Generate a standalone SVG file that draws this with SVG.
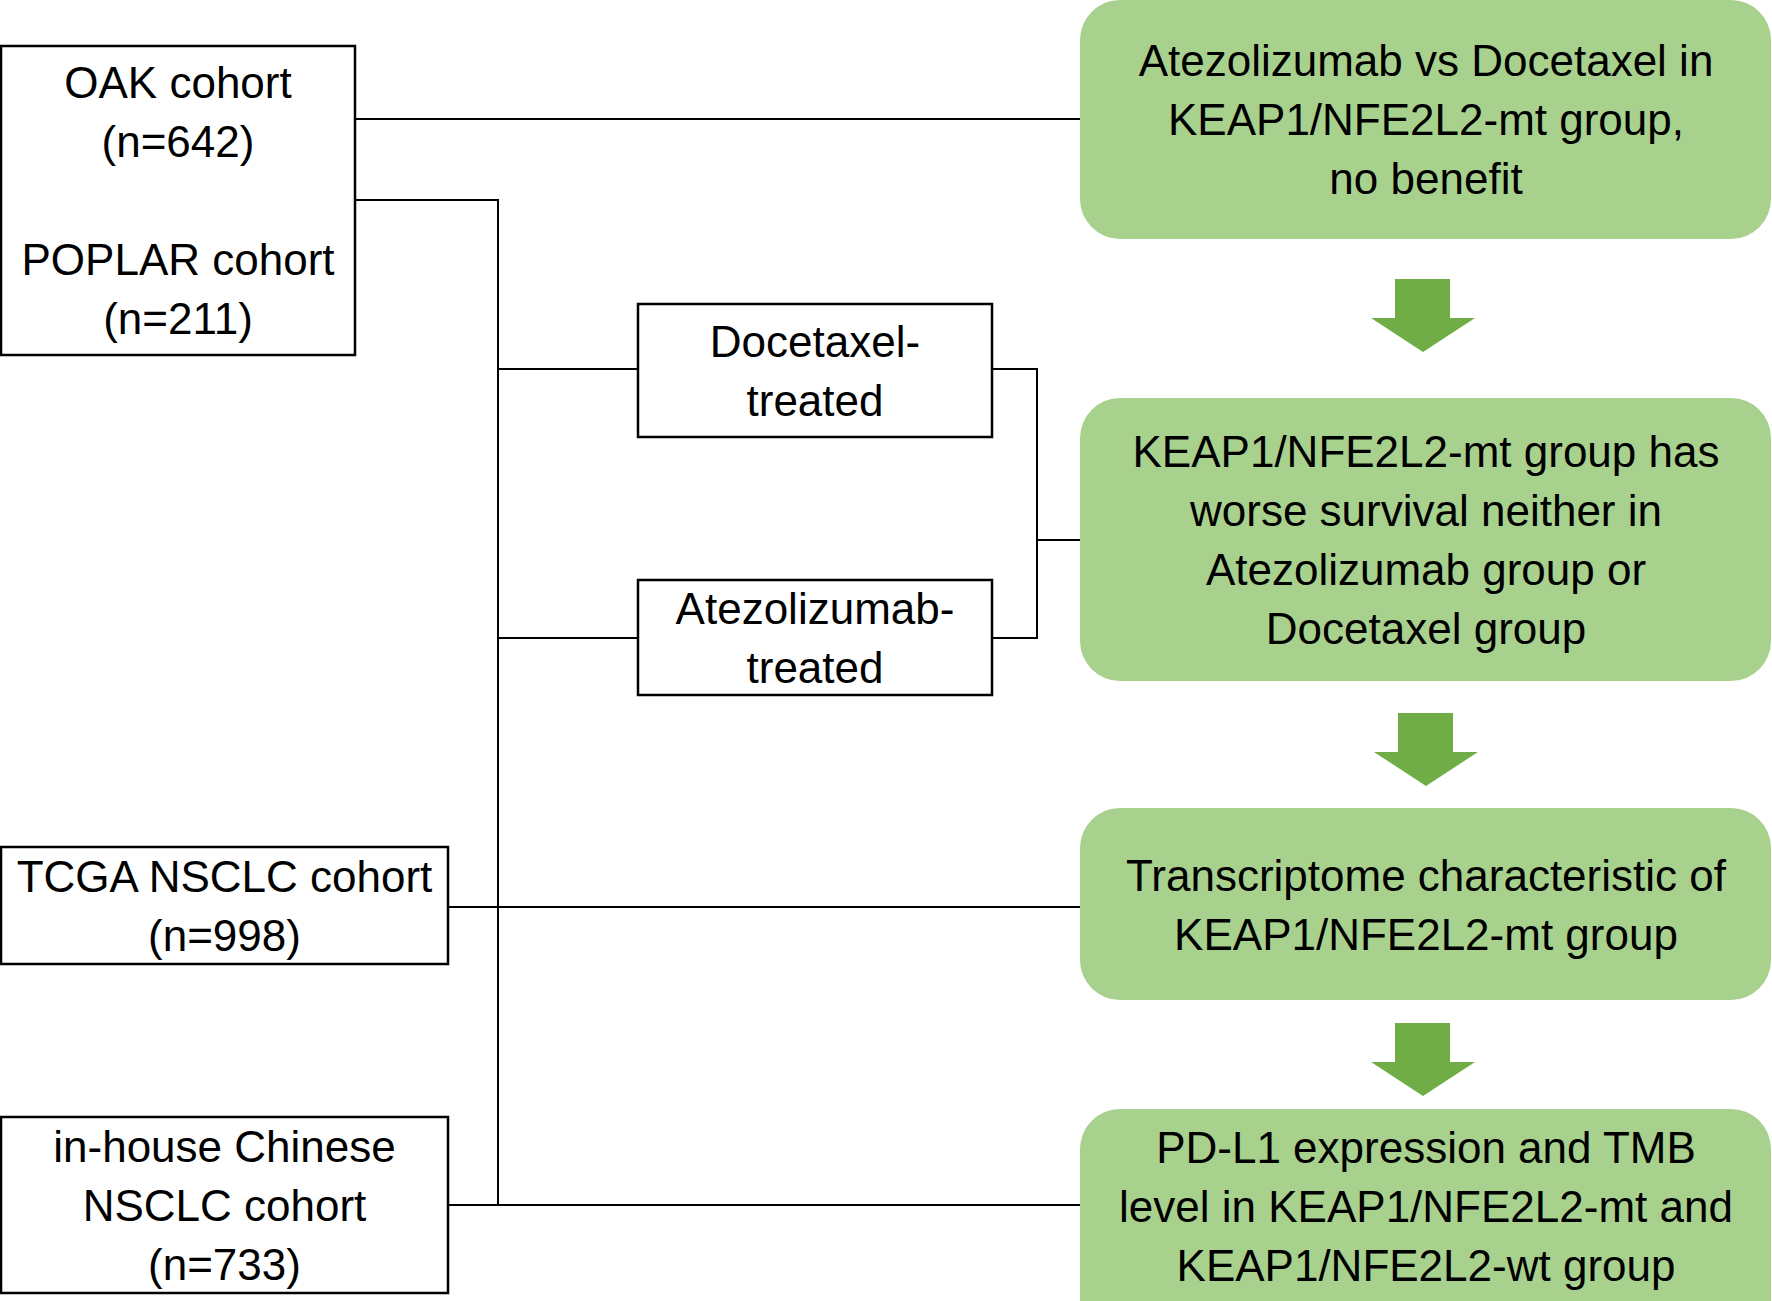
<svg xmlns="http://www.w3.org/2000/svg" width="1772" height="1301" viewBox="0 0 1772 1301">
<style>
.box{fill:#ffffff;stroke:#000000;stroke-width:2.5}
.green{fill:#A9D18E;stroke:none}
.arrow{fill:#70AD47;stroke:none}
.conn{fill:none;stroke:#000000;stroke-width:2}
text{font-family:"Liberation Sans",Arial,sans-serif;font-size:44px;fill:#000000;text-anchor:middle}
</style>
<rect width="1772" height="1301" fill="#ffffff"/>
<g id="connectors">
<polyline class="conn" points="355,119 1080,119"/>
<polyline class="conn" points="355,200 498,200 498,1205"/>
<polyline class="conn" points="498,369 638,369"/>
<polyline class="conn" points="498,638 638,638"/>
<polyline class="conn" points="992,369 1037,369 1037,638 992,638"/>
<polyline class="conn" points="1037,540 1080,540"/>
<polyline class="conn" points="448,907 1080,907"/>
<polyline class="conn" points="448,1205 1080,1205"/>
</g>
<g id="oak-poplar">
<rect class="box" x="1" y="46" width="354" height="309"/>
<text x="178" y="98">OAK cohort</text>
<text x="178" y="157">(n=642)</text>
<text x="178" y="275">POPLAR cohort</text>
<text x="178" y="334">(n=211)</text>
</g>
<g id="docetaxel">
<rect class="box" x="638" y="304" width="354" height="133"/>
<text x="815" y="357">Docetaxel-</text>
<text x="815" y="416">treated</text>
</g>
<g id="atezolizumab">
<rect class="box" x="638" y="580" width="354" height="115"/>
<text x="815" y="624">Atezolizumab-</text>
<text x="815" y="683">treated</text>
</g>
<g id="tcga">
<rect class="box" x="1" y="847" width="447" height="117"/>
<text x="224.5" y="892">TCGA NSCLC cohort</text>
<text x="224.5" y="951">(n=998)</text>
</g>
<g id="inhouse">
<rect class="box" x="1" y="1117" width="447" height="176"/>
<text x="224.5" y="1162">in-house Chinese</text>
<text x="224.5" y="1221">NSCLC cohort</text>
<text x="224.5" y="1280">(n=733)</text>
</g>
<g id="result1">
<rect class="green" x="1080" y="0" width="691" height="239" rx="40" ry="40"/>
<text x="1426" y="76">Atezolizumab vs Docetaxel in</text>
<text x="1426" y="135">KEAP1/NFE2L2-mt group,</text>
<text x="1426" y="194">no benefit</text>
</g>
<g id="arrow1">
<polygon class="arrow" points="1395,279 1450,279 1450,318 1475,318 1423,352 1371,318 1395,318"/>
</g>
<g id="result2">
<rect class="green" x="1080" y="398" width="691" height="283" rx="40" ry="40"/>
<text x="1426" y="467">KEAP1/NFE2L2-mt group has</text>
<text x="1426" y="526">worse survival neither in</text>
<text x="1426" y="585">Atezolizumab group or</text>
<text x="1426" y="644">Docetaxel group</text>
</g>
<g id="arrow2">
<polygon class="arrow" points="1398,713 1453,713 1453,752 1478,752 1426,786 1374,752 1398,752"/>
</g>
<g id="result3">
<rect class="green" x="1080" y="808" width="691" height="192" rx="40" ry="40"/>
<text x="1426" y="891">Transcriptome characteristic of</text>
<text x="1426" y="950">KEAP1/NFE2L2-mt group</text>
</g>
<g id="arrow3">
<polygon class="arrow" points="1395,1023 1450,1023 1450,1062 1475,1062 1423,1096 1371,1062 1395,1062"/>
</g>
<g id="result4">
<rect class="green" x="1080" y="1109" width="691" height="240" rx="40" ry="40"/>
<text x="1426" y="1163">PD-L1 expression and TMB</text>
<text x="1426" y="1222">level in KEAP1/NFE2L2-mt and</text>
<text x="1426" y="1281">KEAP1/NFE2L2-wt group</text>
</g>
</svg>
